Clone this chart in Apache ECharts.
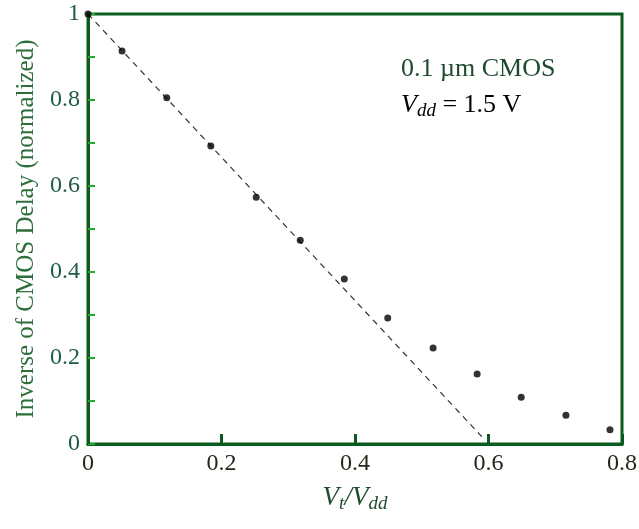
<!DOCTYPE html>
<html><head><meta charset="utf-8">
<script src="https://cdn.jsdelivr.net/npm/echarts@6/dist/echarts.min.js"></script>
<style>html,body{margin:0;padding:0;background:#fff}#c{width:639px;height:529px}</style>
</head><body><div id="c"></div>
<script>
const xVals = [0, 0.051, 0.118, 0.184, 0.252, 0.318, 0.384, 0.449, 0.517, 0.583, 0.649, 0.716, 0.782];
const yVals = [1.0, 0.914, 0.805, 0.693, 0.574, 0.474, 0.384, 0.293, 0.223, 0.163, 0.109, 0.067, 0.033];
const fitX = [0, 0.59];
const fitY = [1.0, 0.017];
const xTicks = [0, 0.2, 0.4, 0.6, 0.8];
const yTicks = [0, 0.2, 0.4, 0.6, 0.8, 1];

const F = '"Liberation Serif", "DejaVu Serif", serif';
const chart = echarts.init(document.getElementById('c'));
chart.setOption({
  animation: false,
  grid: {left: 88, right: 17, top: 14, bottom: 85, containLabel: false, outerBoundsMode: 'none',
         show: true, borderColor: '#0b5a1e', borderWidth: 3, backgroundColor: 'transparent'},
  xAxis: {
    type: 'value', min: 0, max: 0.8, interval: 0.2,
    axisLine: {show: true, onZero: false, lineStyle: {color: '#0b5a1e', width: 3}},
    axisTick: {show: true, inside: true, length: 10, lineStyle: {color: '#0b5a1e', width: 3}},
    splitLine: {show: false},
    axisLabel: {fontFamily: F, fontSize: 24, color: '#26261a', margin: 8,
      formatter: v => { const t = xTicks.find(k => Math.abs(k - v) < 1e-9); return t === undefined ? '' : String(t); }},
    name: '{i|V}{s|t}{i|/V}{s|dd}', nameLocation: 'middle', nameGap: 38,
    nameTextStyle: {rich: {
      i: {fontFamily: F, fontStyle: 'italic', fontSize: 27, color: '#1e4a2e'},
      s: {fontFamily: F, fontStyle: 'italic', fontSize: 19, color: '#1e4a2e', padding: [12, 0, 0, 0]}
    }}
  },
  yAxis: {
    type: 'value', min: 0, max: 1, interval: 0.2,
    axisLine: {show: true, lineStyle: {color: '#0b5a1e', width: 3}},
    axisTick: {show: true, inside: true, length: 7, lineStyle: {color: '#22aa33', width: 2}},
    minorTick: {show: true, splitNumber: 2, length: 7, lineStyle: {color: '#22aa33', width: 2}},
    splitLine: {show: false},
    axisLabel: {fontFamily: F, fontSize: 24, color: '#1e5a46', margin: 8,
      formatter: v => { const t = yTicks.find(k => Math.abs(k - v) < 1e-9); return t === undefined ? '' : String(t); }},
    name: 'Inverse of CMOS Delay (normalized)', nameLocation: 'middle', nameGap: 49,
    nameTextStyle: {fontFamily: F, fontSize: 25, color: '#2e6e3a'}
  },
  graphic: [
    {type: 'text', left: 401, top: 56, style: {text: '0.1 µm CMOS', font: '26px ' + F, fill: '#1e4a2e'}},
    {type: 'text', left: 401, top: 92, style: {
      text: '{i|V}{s|dd}{n| = 1.5 V}',
      rich: {
        i: {fontFamily: F, fontStyle: 'italic', fontSize: 26, color: '#1e4a2e'},
        s: {fontFamily: F, fontStyle: 'italic', fontSize: 19, color: '#1e4a2e', padding: [12, 0, 0, 0]},
        n: {fontFamily: F, fontSize: 26, color: '#1e4a2e'}
      }}}
  ],
  series: [
    {type: 'line', data: fitX.map((x, i) => [x, fitY[i]]), symbol: 'none', z: 1,
     lineStyle: {color: '#333', width: 1.2, type: [6, 5]}},
    {type: 'scatter', data: xVals.map((x, i) => [x, yVals[i]]), symbol: 'circle', symbolSize: 7,
     itemStyle: {color: '#000'}, z: 5, clip: false}
  ]
});
</script></body></html>
